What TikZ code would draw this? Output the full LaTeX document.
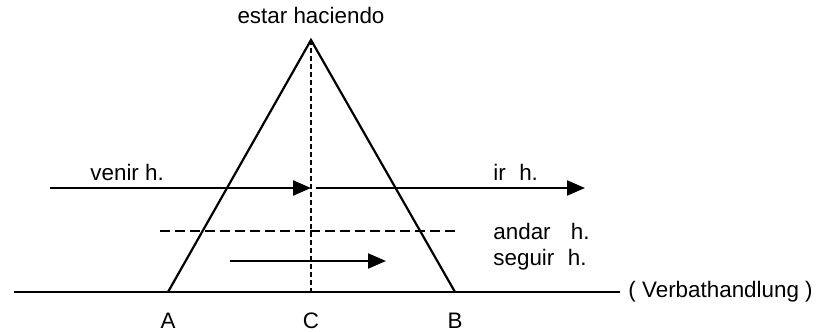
\documentclass[tikz,border=0pt]{standalone}
\usepackage{fontspec}
\setmainfont{Liberation Sans}
\usetikzlibrary{arrows.meta}
\begin{document}
\begin{tikzpicture}[x=0.5pt,y=-0.5pt,
  ln/.style={line width=1.1pt},
  arr/.style={ln,-{Triangle[length=9pt,width=7.5pt]}},
  dsh/.style={line width=1pt,dash pattern=on 5pt off 2.5pt},
  vdsh/.style={line width=0.7pt,dash pattern=on 2.5pt off 1.5pt},
  lbl/.style={font=\fontsize{11.2}{13}\selectfont,inner sep=0pt}]
\useasboundingbox (0,0) rectangle (825,332);
% key points
\coordinate (apex) at (311,40);
\coordinate (A) at (168,292);
\coordinate (B) at (455,292);
\coordinate (C) at (311,292);
\coordinate (L) at (14,292);
\coordinate (R) at (620,292);
% base line and triangle
\draw[ln] (L) -- (R);
\draw[ln,line join=miter] (A) -- (apex) -- (B);
\draw[vdsh] (apex) -- (C);
% arrows
\coordinate (v0) at (50,188);
\coordinate (v1) at (311,188);
\coordinate (i0) at (316,188);
\coordinate (i1) at (585,188);
\draw[arr] (v0) -- (v1);
\draw[arr] (i0) -- (i1);
\coordinate (d0) at (160,231);
\coordinate (d1) at (458,231);
\draw[dsh] (d0) -- (d1);
\coordinate (s0) at (230,261);
\coordinate (s1) at (386,261);
\draw[arr] (s0) -- (s1);
% labels
\node[lbl] (top) at (311,15) {estar haciendo};
\node[lbl,anchor=west] (venir) at (90,172) {venir h.};
\node[lbl,anchor=west] (ir) at (493,172) {ir\hspace{0.6em}h.};
\node[lbl,anchor=west] (andar) at (493,231) {andar\hspace{0.9em}h.};
\node[lbl,anchor=west] (seguir) at (493,260) {seguir\hspace{0.6em}h.};
\node[lbl,anchor=west] (verb) at (628,292) {( Verbathandlung )};
\node[lbl] (la) at (168,321) {A};
\node[lbl] (lc) at (311,321) {C};
\node[lbl] (lb) at (455,321) {B};
\end{tikzpicture}
\end{document}
